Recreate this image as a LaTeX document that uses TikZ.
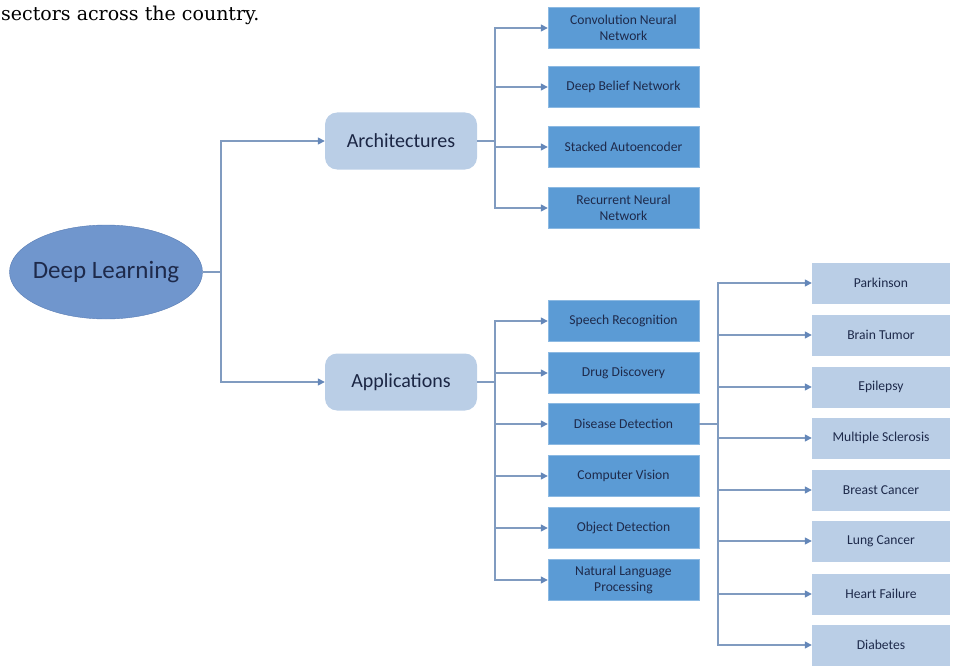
\documentclass[tikz,border=0pt]{standalone}
\usepackage{fontspec}
\setmainfont{Carlito}
\newfontfamily\captionfont{DejaVu Serif}
\usetikzlibrary{arrows.meta,shapes.geometric}
\definecolor{rootblue}{RGB}{112,150,205}
\definecolor{rootline}{RGB}{90,125,180}
\definecolor{paleblue}{RGB}{186,206,230}
\definecolor{midblue}{RGB}{91,155,213}
\definecolor{inkblue}{RGB}{30,42,75}
\definecolor{wireblue}{RGB}{128,155,192}
\definecolor{tipblue}{RGB}{100,135,185}
\tikzset{
    root/.style = {
        ellipse,
        fill = rootblue,
        draw = rootline,
        minimum width = 193pt,
        minimum height = 94pt,
        inner xsep = -8pt,
        inner ysep = 0pt,
        text = inkblue,
        font = \fontsize{25}{28}\selectfont,
        },
    branch/.style = {
        rounded corners = 12pt,
        fill = paleblue,
        minimum width = 152pt,
        minimum height = 57pt,
        text = inkblue!90!black,
        font = \fontsize{20}{23}\selectfont,
        },
    item/.style = {
        fill = midblue,
        draw = midblue!70!white,
        minimum width = 151pt,
        minimum height = 41pt,
        inner sep = 1pt,
        align = center,
        text = inkblue,
        font = \fontsize{13.6}{15.5}\selectfont,
        },
    leaf/.style = {
        fill = paleblue,
        minimum width = 138pt,
        minimum height = 41pt,
        inner sep = 1pt,
        text = inkblue,
        font = \fontsize{13.6}{15.5}\selectfont,
        },
    wire/.style = {
        draw = wireblue,
        line width = 1.3pt,
        },
    arrow/.style = {
        wire,
        -{Triangle[width=7pt,length=7pt,color=tipblue]},
        },
}

\begin{document}
\begin{tikzpicture}[x=1pt,y=-1pt]
    \useasboundingbox (0,0) rectangle (953,666);
    \node[anchor=base west, inner sep=0pt, font=\captionfont\fontsize{19}{22}\selectfont] (caption) at (1,21) {sectors across the country.};

    % root and the two branches
    \node[root] (dl) at (106,272) {Deep Learning};
    \node[branch] (arch) at (401,141) {Architectures};
    \node[branch] (app) at (401,382) {Applications};

    % architectures
    \node[item] (cnn) at (623.5,28) {Convolution Neural\\Network};
    \node[item] (dbn) at (623.5,87) {Deep Belief Network};
    \node[item] (sae) at (623.5,147) {Stacked Autoencoder};
    \node[item] (rnn) at (623.5,208) {Recurrent Neural\\Network};

    % applications
    \node[item] (speech) at (623.5,321) {Speech Recognition};
    \node[item] (drug) at (623.5,373) {Drug Discovery};
    \node[item] (disease) at (623.5,424) {Disease Detection};
    \node[item] (vision) at (623.5,476) {Computer Vision};
    \node[item] (object) at (623.5,528) {Object Detection};
    \node[item] (nlp) at (623.5,580) {Natural Language\\Processing};

    % diseases
    \node[leaf] (park) at (881,283) {Parkinson};
    \node[leaf] (brain) at (881,335) {Brain Tumor};
    \node[leaf] (epil) at (881,387) {Epilepsy};
    \node[leaf] (ms) at (881,438) {Multiple Sclerosis};
    \node[leaf] (breast) at (881,490) {Breast Cancer};
    \node[leaf] (lung) at (881,541) {Lung Cancer};
    \node[leaf] (heart) at (881,594) {Heart Failure};
    \node[leaf] (diab) at (881,645) {Diabetes};

    \coordinate (dlbus) at (221,272);
    \coordinate (archbus) at (495,141);
    \coordinate (appbus) at (495,382);
    \coordinate (disbus) at (718,424);

    \path[wire] (dl) -- (dlbus);
    \path[arrow] (dlbus) |- (arch);
    \path[arrow] (dlbus) |- (app);

    \path[wire] (arch) -- (archbus);
    \foreach \n in {cnn,dbn,sae,rnn}
        \path[arrow] (archbus) |- (\n);

    \path[wire] (app) -- (appbus);
    \foreach \n in {speech,drug,disease,vision,object,nlp}
        \path[arrow] (appbus) |- (\n);

    \path[wire] (disease) -- (disbus);
    \foreach \n in {park,brain,epil,ms,breast,lung,heart,diab}
        \path[arrow] (disbus) |- (\n);
\end{tikzpicture}
\end{document}
